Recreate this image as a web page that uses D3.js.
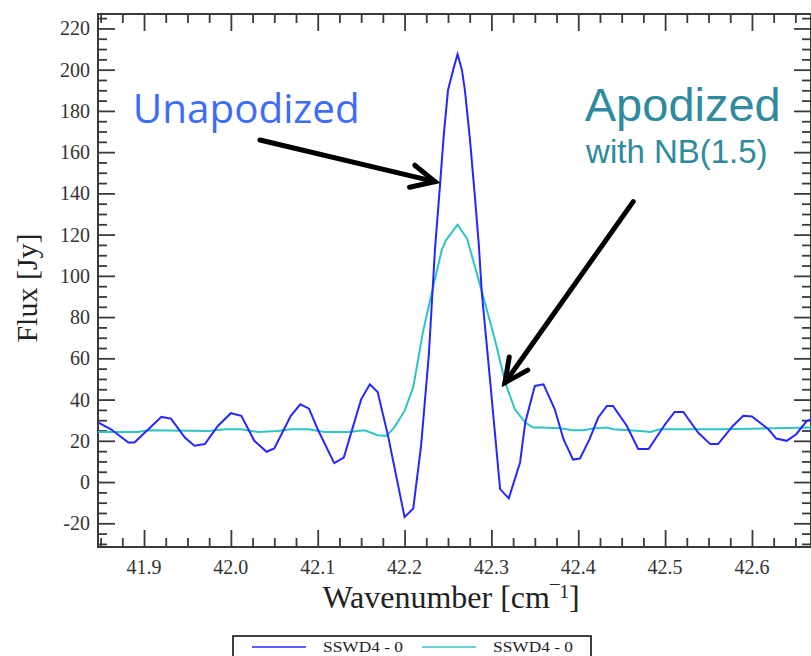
<!DOCTYPE html>
<html>
<head>
<meta charset="utf-8">
<script src="https://cdn.jsdelivr.net/npm/d3@7"></script>
<style>
  html, body { margin: 0; padding: 0; background: #fff; }
  svg { display: block; }
</style>
</head>
<body>
<div id="chart"></div>
<script>
// Unapodized spectrum (blue)
const unapodizedWave = [41.847, 41.862, 41.882, 41.889, 41.905, 41.920, 41.931, 41.947, 41.958, 41.970,
  41.985, 42.000, 42.012, 42.027, 42.041, 42.050, 42.069, 42.080, 42.090, 42.100,
  42.119, 42.130, 42.150, 42.160, 42.169, 42.181, 42.200, 42.210, 42.219, 42.228,
  42.235, 42.241, 42.245, 42.250, 42.256, 42.261, 42.266, 42.2695, 42.275, 42.281,
  42.2855, 42.289, 42.298, 42.310, 42.320, 42.333, 42.339, 42.350, 42.360, 42.373,
  42.383, 42.394, 42.402, 42.413, 42.423, 42.433, 42.440, 42.456, 42.469, 42.481,
  42.500, 42.511, 42.521, 42.538, 42.552, 42.561, 42.578, 42.590, 42.600, 42.619,
  42.628, 42.640, 42.651, 42.663, 42.668];
const unapodizedFlux = [28.9, 25.6, 19.2, 19.2, 25.6, 31.6, 30.8, 21.6, 17.6, 18.4,
  27.2, 33.4, 32.1, 20.0, 14.7, 16.3, 32.1, 37.7, 35.6, 25.6,
  9.2, 11.9, 40.1, 47.4, 43.7, 22.4, -17.0, -12.8, 17.5, 62.0,
  112.7, 145.0, 167.5, 190.0, 200.0, 207.5, 200.0, 190.0, 167.5, 138.4,
  115.0, 91.7, 51.4, -3.4, -7.9, 9.5, 28.9, 46.6, 47.4, 35.3,
  20.8, 10.9, 11.4, 20.8, 31.3, 36.9, 36.9, 27.2, 16.0, 16.0,
  28.0, 34.0, 34.0, 24.0, 18.4, 18.4, 27.2, 32.1, 31.8, 25.6,
  21.1, 20.0, 23.2, 29.6, 30.5];

// Apodized spectrum, NB(1.5) (cyan)
const apodizedWave = [41.847, 41.893, 41.905, 41.974, 41.993, 42.012, 42.031, 42.054, 42.069, 42.089,
  42.108, 42.135, 42.154, 42.169, 42.179, 42.188, 42.200, 42.210, 42.221, 42.233,
  42.243, 42.248, 42.261, 42.272, 42.2905, 42.304, 42.316, 42.327, 42.339, 42.348,
  42.356, 42.379, 42.394, 42.406, 42.417, 42.433, 42.440, 42.471, 42.483, 42.494,
  42.563, 42.668];
const apodizedFlux = [24.3, 24.3, 25.1, 24.8, 25.6, 25.6, 24.3, 24.8, 25.6, 25.6,
  24.3, 24.3, 25.1, 22.7, 22.4, 26.4, 34.5, 46.0, 72.4, 94.9,
  112.7, 117.5, 124.8, 118.0, 90.1, 69.1, 48.2, 35.3, 28.9, 26.4,
  26.4, 26.1, 25.1, 25.1, 26.0, 26.4, 25.6, 24.8, 24.3, 25.6,
  25.6, 26.4];

// Axis ticks
const xMajorTicks = [41.9, 42.0, 42.1, 42.2, 42.3, 42.4, 42.5, 42.6];
const yMajorTicks = [-20, 0, 20, 40, 60, 80, 100, 120, 140, 160, 180, 200, 220];
const legendLabels = ['SSWD4 - 0', 'SSWD4 - 0'];

const width = 811, height = 656;
const margin = { top: 14, right: 0, bottom: 109, left: 98 };
const blue = '#2626ff', cyan = '#2fc4c4', axisColor = '#3a3a3a';

const svg = d3.select('#chart').append('svg')
    .attr('width', width)
    .attr('height', height);

const x = d3.scaleLinear().domain([41.847, 42.668]).range([margin.left, width - margin.right]);
const y = d3.scaleLinear().domain([-31.5, 227]).range([height - margin.bottom, margin.top]);

svg.append('defs').append('clipPath').attr('id', 'plot-clip')
  .append('rect')
    .attr('x', x.range()[0]).attr('y', y.range()[1])
    .attr('width', x.range()[1] - x.range()[0])
    .attr('height', y.range()[0] - y.range()[1]);

// Minor ticks every 0.025 / 5 units
const xMinor = d3.range(0, 40).map(i => +(41.85 + i * 0.025).toFixed(3))
    .filter(v => v >= x.domain()[0] && v <= x.domain()[1] && !xMajorTicks.some(m => Math.abs(m - v) < 1e-6));
const yMinor = d3.range(-30, 230, 5).filter(v => v % 20 !== 0);

const major = 17, minor = 9;
const x0 = x.range()[0], x1 = x.range()[1], y0 = y.range()[0], y1 = y.range()[1];

// Axes: ticks on all four sides, pointing inward
function ticks(axis, pos, values, size) {
  svg.append('g').attr('transform', pos)
      .call(axis.tickValues(values).tickSize(size).tickFormat(''))
      .call(g => g.select('.domain').remove());
}
ticks(d3.axisTop(x), `translate(0,${y0})`, xMajorTicks, major);
ticks(d3.axisTop(x), `translate(0,${y0})`, xMinor, minor);
ticks(d3.axisBottom(x), `translate(0,${y1})`, xMajorTicks, major);
ticks(d3.axisBottom(x), `translate(0,${y1})`, xMinor, minor);
ticks(d3.axisRight(y), `translate(${x0},0)`, yMajorTicks, major);
ticks(d3.axisRight(y), `translate(${x0},0)`, yMinor, minor);
ticks(d3.axisLeft(y), `translate(${x1},0)`, yMajorTicks, major);
ticks(d3.axisLeft(y), `translate(${x1},0)`, yMinor, minor);

svg.selectAll('.tick line').attr('stroke', axisColor).attr('stroke-width', 1.8);

// Frame
svg.append('rect')
    .attr('x', x0).attr('y', y1)
    .attr('width', x1 - x0).attr('height', y0 - y1)
    .attr('fill', 'none').attr('stroke', axisColor).attr('stroke-width', 2);

// Tick labels
svg.append('g').selectAll('text').data(xMajorTicks).enter().append('text')
    .attr('x', d => x(d)).attr('y', y0 + 27)
    .attr('text-anchor', 'middle')
    .attr('font-family', 'Liberation Serif, serif').attr('font-size', 20)
    .attr('fill', '#333')
    .text(d => d.toFixed(1));
svg.append('g').selectAll('text').data(yMajorTicks).enter().append('text')
    .attr('x', x0 - 8).attr('y', d => y(d) + 7)
    .attr('text-anchor', 'end')
    .attr('font-family', 'Liberation Serif, serif').attr('font-size', 20)
    .attr('fill', '#333')
    .text(d => d);

// Axis titles
const xt = svg.append('text')
    .attr('x', 451).attr('y', 608)
    .attr('text-anchor', 'middle')
    .attr('font-family', 'Liberation Serif, serif').attr('font-size', 32)
    .attr('fill', '#222');
xt.append('tspan').text('Wavenumber [cm');
xt.append('tspan').attr('font-size', 19).attr('dy', -10).text('\u00AF1');
xt.append('tspan').attr('dy', 10).text(']');

svg.append('text')
    .attr('transform', 'translate(37,288) rotate(-90)')
    .attr('text-anchor', 'middle')
    .attr('font-family', 'Liberation Serif, serif').attr('font-size', 30)
    .attr('fill', '#222')
    .text('Flux [Jy]');

// Spectra
const line = d3.line().x(d => x(d[0])).y(d => y(d[1]));
const plot = svg.append('g').attr('clip-path', 'url(#plot-clip)');
plot.append('path')
    .datum(d3.zip(apodizedWave, apodizedFlux))
    .attr('fill', 'none').attr('stroke', cyan).attr('stroke-width', 2)
    .attr('d', line);
plot.append('path')
    .datum(d3.zip(unapodizedWave, unapodizedFlux))
    .attr('fill', 'none').attr('stroke', blue).attr('stroke-width', 2)
    .attr('d', line);

// Annotations
svg.append('text')
    .attr('x', x(41.887)).attr('y', y(174))
    .attr('font-family', 'Open Sans, sans-serif').attr('font-size', 40)
    .attr('fill', '#3d6cf6')
    .attr('textLength', 227).attr('lengthAdjust', 'spacingAndGlyphs')
    .text('Unapodized');
svg.append('text')
    .attr('x', x(42.4075)).attr('y', y(175))
    .attr('font-family', 'Liberation Sans, Arial, sans-serif').attr('font-size', 47)
    .attr('fill', '#2e8a9c')
    .text('Apodized');
svg.append('text')
    .attr('x', x(42.409)).attr('y', y(154.5))
    .attr('font-family', 'Liberation Sans, Arial, sans-serif').attr('font-size', 33)
    .attr('fill', '#2e8a9c')
    .text('with NB(1.5)');

function arrow(from, to) {
  const fx = x(from[0]), fy = y(from[1]), tx = x(to[0]), ty = y(to[1]);
  const ang = Math.atan2(fy - ty, fx - tx);
  const len = 26, spread = 0.45;
  const g = svg.append('g').attr('stroke', '#000').attr('stroke-width', 5)
      .attr('stroke-linecap', 'round').attr('fill', 'none');
  g.append('line').attr('x1', fx).attr('y1', fy).attr('x2', tx).attr('y2', ty);
  g.append('path').attr('stroke-linejoin', 'miter')
      .attr('d', `M${tx + len * Math.cos(ang + spread)},${ty + len * Math.sin(ang + spread)}L${tx},${ty}L${tx + len * Math.cos(ang - spread)},${ty + len * Math.sin(ang - spread)}`);
}
arrow([42.0335, 165.9], [42.235, 145.7]);
arrow([42.4633, 136.0], [42.3156, 48.2]);

// Legend
const legend = svg.append('g');
legend.append('rect')
    .attr('x', 233).attr('y', 636).attr('width', 358).attr('height', 40)
    .attr('fill', '#fff').attr('stroke', '#000').attr('stroke-width', 1.5);
[blue, cyan].forEach((c, i) => {
  const lx = 252 + i * 170;
  legend.append('line')
      .attr('x1', lx).attr('x2', lx + 54).attr('y1', 647).attr('y2', 647)
      .attr('stroke', c).attr('stroke-width', 1.5);
  legend.append('text')
      .attr('x', lx + 71).attr('y', 652)
      .attr('font-family', 'Liberation Serif, serif').attr('font-size', 14)
      .attr('fill', '#222')
      .attr('textLength', 80).attr('lengthAdjust', 'spacingAndGlyphs')
      .text(legendLabels[i]);
});
</script>
</body>
</html>
